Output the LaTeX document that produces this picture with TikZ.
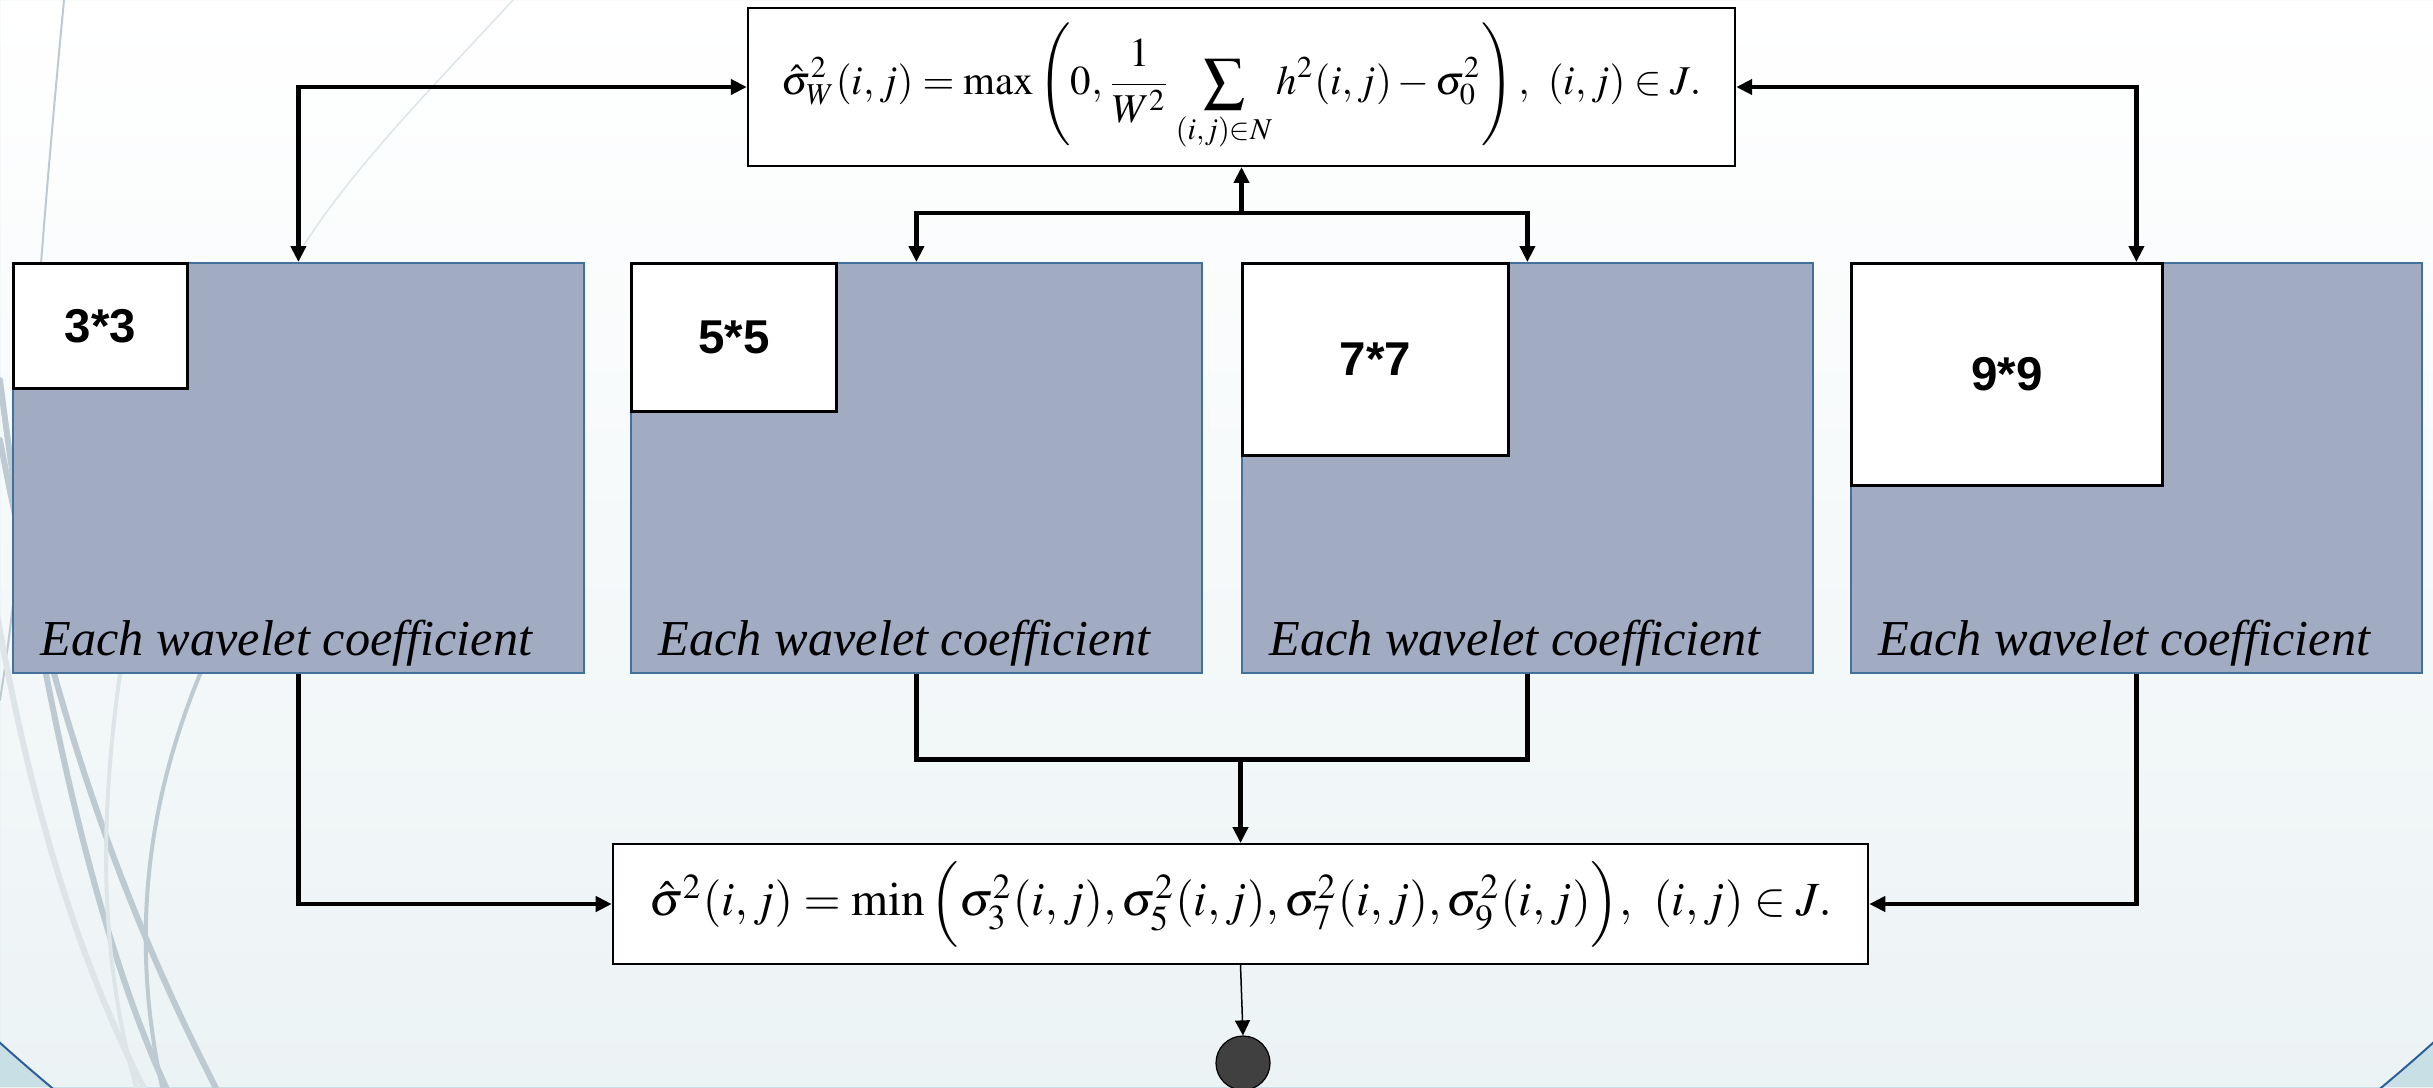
\documentclass[tikz,border=0pt]{standalone}
\usepackage{mathptmx}
\usepackage{fontspec}
\newfontfamily\labfont{Liberation Sans}
\newfontfamily\coeffont{Liberation Serif}
\usetikzlibrary{arrows.meta}
\definecolor{boxfill}{RGB}{161,171,194}
\definecolor{boxline}{RGB}{65,113,156}
\definecolor{bgbottom}{RGB}{236,243,245}
\definecolor{cornerfill}{RGB}{200,224,229}
\definecolor{cornerline}{RGB}{46,94,154}
\definecolor{arcgrey}{RGB}{190,202,209}
\definecolor{arclight}{RGB}{221,229,233}
\definecolor{dotfill}{RGB}{64,64,64}
\tikzset{
  bluebox/.style={draw=boxline, fill=boxfill, line width=0.015cm, minimum width=5.71cm, minimum height=4.10cm, anchor=north west, inner sep=0pt},
  whitebox/.style={draw=black, fill=white, line width=0.03cm, anchor=north west, inner sep=0pt, font=\labfont\bfseries\fontsize{13.5}{15}\selectfont},
  coef/.style={anchor=base, inner sep=0pt, font=\coeffont\itshape\fontsize{14.3}{16}\selectfont},
  formbox/.style={draw=black, fill=white, line width=0.018cm, inner sep=0pt},
  conn/.style={line width=0.045cm, draw=black},
  tip/.style={-{Triangle[length=0.16cm,width=0.15cm]}},
  tips/.style={{Triangle[length=0.16cm,width=0.15cm]}-{Triangle[length=0.16cm,width=0.15cm]}},
  dec/.style={line cap=round},
}
\begin{document}
\begin{tikzpicture}[x=0.01cm,y=-0.01cm]
\useasboundingbox (0,0) rectangle (2433,1087);
% background
\shade[top color=white, bottom color=bgbottom] (0,0) rectangle (2433,1087);
\begin{scope}
  \clip (0,0) rectangle (2433,1087);
  \fill[cornerfill, even odd rule] (0,0) rectangle (2433,1087) (1216.5,-311) circle[radius=18.19cm];
  \draw[cornerline, line width=0.02cm] (1216.5,-311) circle[radius=18.19cm];
  % decorative arcs
  \draw[dec, arcgrey, line width=0.02cm] (64,0) .. controls (45,200) and (38,300) .. (30,420) .. controls (20,560) and (8,650) .. (0,700);
  \draw[dec, arclight, line width=0.015cm] (513,0) .. controls (430,90) and (350,170) .. (297,256);
  \draw[dec, arclight, line width=0.06cm] (-30,420) .. controls (0,700) and (60,930) .. (150,1100);
  \draw[dec, arcgrey, line width=0.06cm] (0,380) .. controls (40,700) and (100,950) .. (172,1100);
  \draw[dec, arcgrey, line width=0.06cm] (0,440) .. controls (60,760) and (150,960) .. (222,1100);
  \draw[dec, arclight, line width=0.04cm] (125,640) .. controls (100,800) and (95,950) .. (140,1100);
  \draw[dec, arcgrey, line width=0.04cm] (215,640) .. controls (150,780) and (125,930) .. (165,1100);
\end{scope}
% top formula box
\node[formbox, minimum width=9.87cm, minimum height=1.58cm] (top) at (1241.5,87)
  {\resizebox{9.19cm}{!}{$\displaystyle \hat{\sigma}_W^2(i,j)=\max\left(0,\frac{1}{W^2}\sum_{(i,j)\in N}h^2(i,j)-\sigma_0^2\right),\ (i,j)\in J.$}};
% bottom formula box
\node[formbox, minimum width=12.55cm, minimum height=1.20cm] (bot) at (1240.5,904)
  {\resizebox{11.82cm}{!}{$\hat{\sigma}^2(i,j)=\min\Big(\sigma_3^2(i,j),\sigma_5^2(i,j),\sigma_7^2(i,j),\sigma_9^2(i,j)\Big),\ (i,j)\in J.$}};
% wavelet boxes
\node[bluebox] (b1) at (12,262) {};
\node[bluebox] (b2) at (630,262) {};
\node[bluebox] (b3) at (1241,262) {};
\node[bluebox] (b4) at (1850,262) {};
\node[whitebox, minimum width=1.74cm, minimum height=1.25cm] (w1) at (b1.north west) {3*3};
\node[whitebox, minimum width=2.05cm, minimum height=1.48cm] (w2) at (b2.north west) {5*5};
\node[whitebox, minimum width=2.66cm, minimum height=1.92cm] (w3) at (b3.north west) {7*7};
\node[whitebox, minimum width=3.11cm, minimum height=2.22cm] (w4) at (b4.north west) {9*9};
\node[coef] (t1) at (286.5,655) {Each wavelet coefficient};
\node[coef] (t2) at (904.5,655) {Each wavelet coefficient};
\node[coef] (t3) at (1515,655) {Each wavelet coefficient};
\node[coef] (t4) at (2124.5,655) {Each wavelet coefficient};
% end dot
\node[circle, draw=black, fill=dotfill, line width=0.012cm, minimum size=0.54cm, inner sep=0pt] (dot) at (1243,1063) {};
% connectors top
\draw[conn, tips] (b1.north) |- (top.west);
\draw[conn, tips] (b4.north) |- (top.east);
\coordinate (m1) at (1241.5,213);
\draw[conn, tip] (m1) -- (top.south);
\draw[conn, tip] (m1) -| (b2.north);
\draw[conn, tip] (m1) -| (b3.north);
% connectors bottom
\coordinate (m2) at (1240.5,759.5);
\draw[conn] (b2.south) |- (m2);
\draw[conn] (b3.south) |- (m2);
\draw[conn, tip] (m2) -- (bot.north);
\draw[conn, tip] (b1.south) |- (bot.west);
\draw[conn, tip] (b4.south) |- (bot.east);
\draw[line width=0.015cm, -{Triangle[length=0.15cm,width=0.15cm]}] (bot.south) -- (dot.north);
\end{tikzpicture}
\end{document}
